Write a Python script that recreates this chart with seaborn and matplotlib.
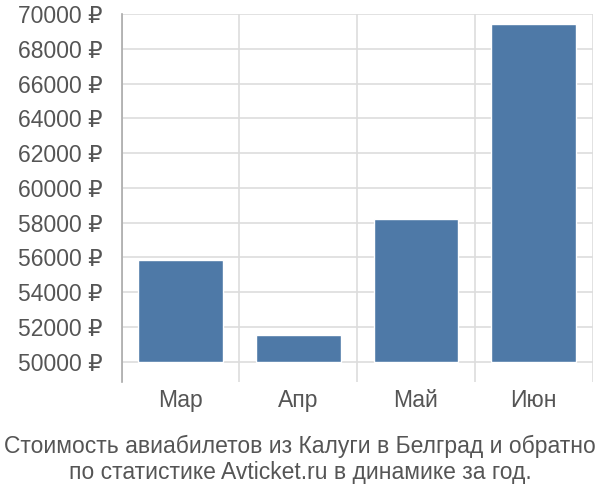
import numpy as np
import pandas as pd
import matplotlib
matplotlib.use("Agg")
import matplotlib.pyplot as plt
import seaborn as sns

# data
months = ["Мар", "Апр", "Май", "Июн"]
prices = [55830, 51520, 58230, 69430]
y_ticks = [50000, 52000, 54000, 56000, 58000, 60000, 62000, 64000, 66000, 68000, 70000]
base = 50000

df = pd.DataFrame({"month": months, "price": prices})

sns.set_style("white")
plt.rcParams["font.family"] = ["Liberation Sans", "DejaVu Sans"]

fig = plt.figure(figsize=(6, 5), dpi=100)
ax = fig.add_axes([0.2028, 0.236, 0.785, 0.736])

sns.barplot(x="month", y="price", data=df, order=months, color="#4e79a7",
            saturation=1, width=0.72, ax=ax, zorder=3)

# bars start at the 50000 line, not at the bottom of the axes
for p in ax.patches:
    h = p.get_height()
    p.set_y(base)
    p.set_height(h - base)

ax.set_ylim(48830, 70000)
ax.set_xlim(-0.5, 3.5)
ax.set_yticks(y_ticks)
ax.set_yticklabels([f"{v} ₽" for v in y_ticks])
ax.set_xticks(range(len(months)))
ax.set_xticks(np.arange(-0.5, 4, 1), minor=True)
ax.set_xlabel("")
ax.set_ylabel("")

ax.grid(axis="y", color="#dddddd", linewidth=1.2, zorder=0)
ax.grid(axis="x", which="minor", color="#dddddd", linewidth=1.2, zorder=0)
ax.tick_params(axis="y", length=13, color="#dddddd", width=1.2, pad=1,
               labelsize=16.5, labelcolor="#555555")
ax.tick_params(axis="x", which="major", length=0, pad=5, labelsize=16.5,
               labelcolor="#555555")
ax.tick_params(axis="x", which="minor", length=0)

for s in ["top", "right", "bottom"]:
    ax.spines[s].set_visible(False)
ax.spines["left"].set_color("#aaaaaa")
ax.spines["left"].set_linewidth(1.2)

fig.text(0.5, 0.081, "Стоимость авиабилетов из Калуги в Белград и обратно\n"
         "по статистике Avticket.ru в динамике за год.",
         ha="center", va="center", fontsize=16.5, color="#555555",
         linespacing=1.15)

fig.savefig("out.png", dpi=100)
